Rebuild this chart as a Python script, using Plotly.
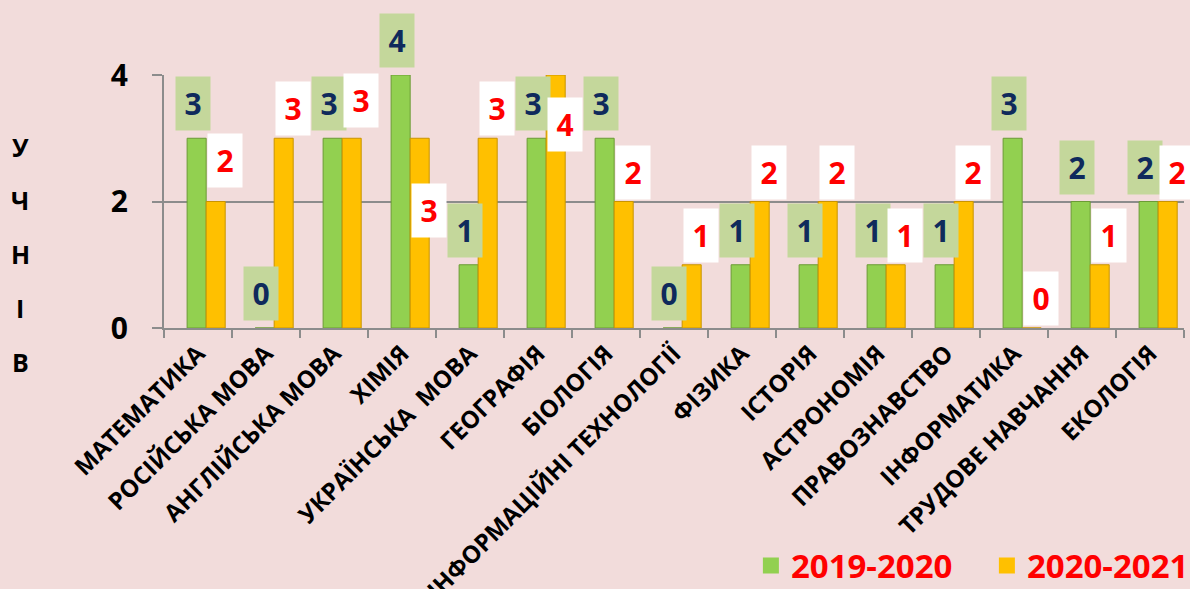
import plotly.graph_objects as go

categories = ["МАТЕМАТИКА", "РОСІЙСЬКА МОВА", "АНГЛІЙСЬКА МОВА", "ХІМІЯ",
              "УКРАЇНСЬКА  МОВА", "ГЕОГРАФІЯ", "БІОЛОГІЯ", "ІНФОРМАЦІЙНІ ТЕХНОЛОГІЇ",
              "ФІЗИКА", "ІСТОРІЯ", "АСТРОНОМІЯ", "ПРАВОЗНАВСТВО", "ІНФОРМАТИКА",
              "ТРУДОВЕ НАВЧАННЯ", "ЕКОЛОГІЯ"]
values_2019 = [3, 0, 3, 4, 1, 3, 3, 0, 1, 1, 1, 1, 3, 2, 2]
values_2020 = [2, 3, 3, 3, 3, 4, 2, 1, 2, 2, 1, 2, 0, 1, 2]
series_names = ["2019-2020", "2020-2021"]
y_tick_values = [0, 2, 4]
y_title_letters = ["У", "Ч", "Н", "І", "В"]

# ---- styling / layout constants ----
W, H = 1190, 589
M_L, M_R, M_T, M_B = 164, 6, 75, 261
BG = "#f2dcdb"
GREEN = "#92d050"
GREEN_EDGE = "#6b9b35"
ORANGE = "#ffc000"
ORANGE_EDGE = "#c99400"
GRID = "#8c8c8c"
FONT = "Open Sans"
BAR_W = 0.28
GREEN_LABEL_YSHIFT = 7
ORANGE_LABEL_YSHIFT = 2
# label placement overrides (pixel shifts) where the original moved a label
ORANGE_LABEL_YSHIFT_OVERRIDE = {"МАТЕМАТИКА": 14, "АНГЛІЙСЬКА МОВА": 10,
                                "ХІМІЯ": -100, "ГЕОГРАФІЯ": -77}

fig = go.Figure()
fig.add_trace(go.Bar(x=categories, y=values_2019, name=series_names[0],
                     width=BAR_W, offset=-0.16, showlegend=False,
                     marker=dict(color=GREEN, line=dict(color=GREEN_EDGE, width=1))))
fig.add_trace(go.Bar(x=categories, y=values_2020, name=series_names[1],
                     width=BAR_W, offset=0.12, showlegend=False,
                     marker=dict(color=ORANGE, line=dict(color=ORANGE_EDGE, width=1))))
# legend entries (larger square swatches)
for name, col in zip(series_names, [GREEN, ORANGE]):
    fig.add_trace(go.Scatter(x=[None], y=[None], mode="markers", name=name,
                             marker=dict(symbol="square", size=21, color=col,
                                         line=dict(width=0))))

annotations = []
for c, v in zip(categories, values_2019):
    annotations.append(dict(x=c, y=v, xref="x", yref="y", text=str(v), showarrow=False,
                            xanchor="center", yanchor="bottom", xshift=-5,
                            yshift=GREEN_LABEL_YSHIFT,
                            width=34, height=53, bgcolor="#c4d79b", borderpad=0,
                            font=dict(family=FONT, size=30, color="#0f2a5c", weight="bold")))
for c, v in zip(categories, values_2020):
    annotations.append(dict(x=c, y=v, xref="x", yref="y", text=str(v), showarrow=False,
                            xanchor="center", yanchor="bottom", xshift=27,
                            yshift=ORANGE_LABEL_YSHIFT_OVERRIDE.get(c, ORANGE_LABEL_YSHIFT),
                            width=34, height=53, bgcolor="white", borderpad=0,
                            font=dict(family=FONT, size=30, color="#ff0000", weight="bold")))

# vertical axis title, letter by letter
plot_h = H - M_T - M_B
letter_py = [147, 200, 254, 308, 362]
for letter, py in zip(y_title_letters, letter_py):
    annotations.append(dict(x=(20 - M_L) / (W - M_L - M_R), y=(H - M_B - py) / plot_h,
                            xref="paper", yref="paper", text=letter, showarrow=False,
                            xanchor="center", yanchor="middle",
                            font=dict(family=FONT, size=25, color="black", weight="bold")))

fig.update_layout(
    width=W, height=H,
    margin=dict(l=M_L, r=M_R, t=M_T, b=M_B, autoexpand=False),
    paper_bgcolor=BG, plot_bgcolor=BG,
    barmode="overlay",
    showlegend=True,
    legend=dict(orientation="h", xref="container", yref="container",
                x=0.631, xanchor="left", y=0.04, yanchor="middle",
                entrywidth=191, entrywidthmode="pixels",
                bgcolor="rgba(0,0,0,0)", itemsizing="trace",
                font=dict(family=FONT, size=33, color="#ff0000", weight="bold")),
    annotations=annotations,
    xaxis=dict(type="category", range=[-0.5, len(categories) - 0.5],
               tickson="boundaries", ticks="outside", ticklen=8, tickwidth=2, tickcolor=GRID,
               showline=True, linecolor=GRID, linewidth=2, showgrid=False,
               tickangle=-45, automargin=False,
               tickfont=dict(family=FONT, size=24, color="black", weight="bold")),
    yaxis=dict(range=[0, 4], tickvals=y_tick_values, ticks="outside", ticklen=10,
               tickwidth=2, tickcolor=GRID, showline=True, linecolor=GRID, linewidth=2,
               showgrid=True, gridcolor=GRID, gridwidth=2, zeroline=False,
               ticklabelstandoff=18, automargin=False,
               tickfont=dict(family=FONT, size=30, color="black", weight="bold")),
)

fig.write_html("out.html", config={"displayModeBar": False},
               post_script="document.body.style.margin='0';")
